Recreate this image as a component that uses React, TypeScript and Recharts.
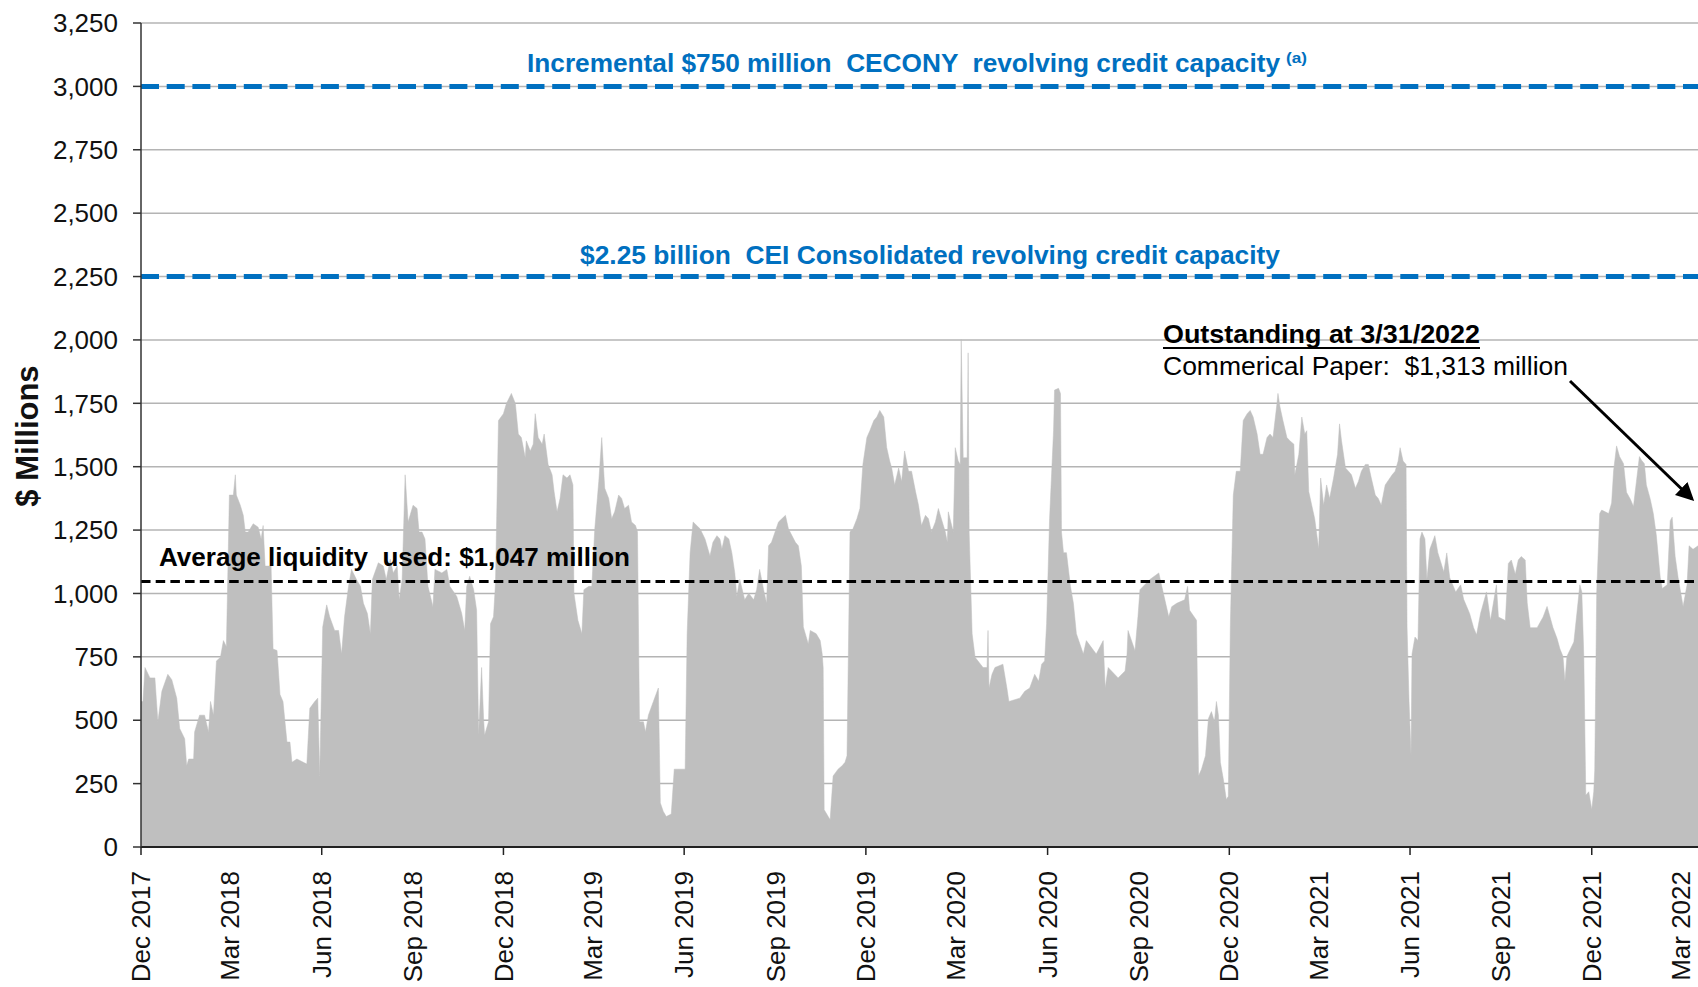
import React from 'react';
import {
  ComposedChart,
  Area,
  XAxis,
  YAxis,
  CartesianGrid,
  ReferenceLine,
} from 'recharts';

document.body.style.margin = '0';

// Daily commercial paper / liquidity used.
// Each point is [days since 1 Dec 2017, $ millions].
const dec17ToMay18: [number, number][] = [
  [0, 574], [2, 574], [4, 708], [9, 667], [14, 667], [17, 494], [21, 614], [27, 681], [31, 660],
  [36, 587], [39, 467], [44, 427], [46, 320], [48, 347], [53, 347], [54, 454], [59, 520], [64, 520],
  [68, 454], [70, 574], [73, 520], [76, 734], [80, 748], [83, 814], [86, 790], [89, 1388], [93, 1388],
  [95, 1468], [96, 1388], [100, 1348], [103, 1308], [105, 1242], [108, 1242], [113, 1275], [118, 1261],
  [121, 1215], [123, 1268], [125, 1108], [131, 1108], [133, 781], [137, 775], [140, 601], [143, 574],
  [147, 414], [150, 414], [152, 334], [157, 347], [163, 335], [167, 327], [170, 547], [175, 574],
  [178, 587], [180, 280],
];

const jun18ToNov18: [number, number][] = [
  [183, 868], [187, 955], [190, 908], [195, 854], [199, 854], [202, 761], [205, 908], [209, 1028],
  [212, 1095], [217, 1055], [221, 1028], [224, 961], [228, 921], [231, 841], [233, 1055], [239, 1121],
  [244, 1108], [247, 1055], [251, 1135], [254, 1081], [258, 1108], [260, 975], [263, 1055], [266, 1468],
  [269, 1282], [274, 1348], [278, 1335], [280, 1242], [283, 1242], [286, 1215], [289, 1028], [294, 948],
  [296, 1095], [303, 1081], [308, 1095], [311, 1028], [318, 988], [323, 921], [326, 854], [328, 1028],
  [331, 1068], [335, 1015], [338, 934], [340, 441], [343, 708], [345, 507], [346, 441], [350, 494],
  [352, 881], [355, 908], [357, 1041], [360, 1682],
];

const dec18ToMay19: [number, number][] = [
  [365, 1709], [368, 1749], [373, 1789], [377, 1749], [380, 1629], [383, 1615], [387, 1535], [388, 1602],
  [392, 1562], [395, 1589], [397, 1709], [400, 1615], [404, 1589], [406, 1629], [410, 1509], [414, 1468],
  [416, 1402], [419, 1322], [422, 1375], [425, 1468], [429, 1455], [432, 1468], [435, 1428], [436, 1001],
  [440, 894], [444, 841], [446, 1015], [451, 1028], [454, 1028], [457, 1255], [461, 1442], [464, 1615],
  [467, 1415], [471, 1375], [474, 1295], [477, 1322], [481, 1388], [484, 1375], [487, 1335], [491, 1348],
  [494, 1282], [498, 1268], [500, 1242], [502, 494], [506, 494], [508, 454], [511, 520], [516, 574],
  [521, 627], [523, 174], [526, 140], [529, 120], [534, 130], [537, 307], [541, 307],
];

const jun19ToNov19: [number, number][] = [
  [548, 307], [550, 841], [553, 1161], [556, 1282], [563, 1255], [568, 1215], [573, 1148], [576, 1202],
  [580, 1228], [583, 1215], [585, 1175], [588, 1228], [592, 1215], [595, 1161], [598, 1081], [600, 988],
  [603, 1055], [608, 975], [612, 1001], [617, 975], [620, 1015], [623, 1095], [627, 1015], [630, 961],
  [632, 1188], [635, 1202], [642, 1282], [649, 1308], [652, 1255], [659, 1202], [662, 1188], [665, 1108],
  [667, 868], [672, 801], [674, 854], [680, 841], [684, 814], [686, 761], [687, 708], [688, 147],
  [694, 107], [697, 280], [702, 307], [706, 320], [709, 334], [711, 360], [714, 1242], [717, 1255],
  [721, 1295], [724, 1335], [727, 1509],
];

const dec19ToMay20: [number, number][] = [
  [731, 1615], [734, 1642], [738, 1682], [741, 1696], [744, 1722], [748, 1696], [751, 1575], [754, 1522],
  [756, 1495], [759, 1428], [763, 1495], [766, 1442], [769, 1562], [773, 1482], [776, 1482], [780, 1402],
  [783, 1348], [786, 1268], [790, 1308], [793, 1295], [796, 1242], [800, 1282], [803, 1335], [806, 1295],
  [810, 1242], [812, 1202], [813, 1322], [818, 1242], [820, 1575], [823, 1522], [825, 1509], [826, 2003],
  [828, 1535], [832, 1535], [833, 1949], [834, 1242], [837, 841], [840, 748], [848, 708], [852, 708],
  [853, 854], [854, 627], [857, 681], [860, 708], [868, 721], [872, 627], [874, 574], [885, 587],
  [890, 614], [895, 627], [900, 681], [904, 654], [907, 721], [910, 734],
];

const jun20ToNov20: [number, number][] = [
  [912, 881], [915, 1295], [919, 1642], [920, 1802], [924, 1809], [926, 1789], [927, 1242], [929, 1161],
  [932, 1161], [936, 1028], [939, 961], [942, 841], [949, 761], [952, 814], [962, 761], [969, 814],
  [971, 627], [974, 708], [984, 667], [991, 694], [993, 761], [994, 854], [1001, 774], [1004, 908],
  [1006, 1015], [1016, 1055], [1025, 1081], [1028, 1028], [1035, 908], [1038, 948], [1043, 961],
  [1051, 975], [1054, 1028], [1056, 934], [1063, 894], [1065, 280], [1068, 307], [1072, 360],
  [1075, 507], [1078, 534], [1081, 494], [1083, 574], [1085, 521], [1087, 334], [1090, 267],
  [1093, 187], [1095, 200],
];

const dec20ToMay21: [number, number][] = [
  [1097, 868], [1100, 1388], [1103, 1482], [1107, 1482], [1110, 1682], [1114, 1709], [1117, 1722],
  [1120, 1696], [1124, 1629], [1127, 1549], [1130, 1549], [1134, 1615], [1137, 1629], [1140, 1615],
  [1144, 1749], [1145, 1789], [1147, 1736], [1150, 1682], [1154, 1615], [1157, 1602], [1161, 1589],
  [1162, 1468], [1166, 1549], [1169, 1696], [1172, 1629], [1174, 1642], [1176, 1402], [1179, 1348],
  [1182, 1295], [1186, 1175], [1188, 1455], [1191, 1348], [1194, 1428], [1197, 1375], [1201, 1455],
  [1205, 1549], [1207, 1669], [1209, 1602], [1213, 1495], [1216, 1482], [1219, 1468], [1223, 1415],
  [1226, 1442], [1229, 1482], [1233, 1509], [1236, 1509], [1239, 1455], [1243, 1388], [1246, 1375],
  [1249, 1348], [1253, 1428], [1260, 1468], [1263, 1482], [1266, 1522], [1268, 1575], [1271, 1522],
  [1274, 1509], [1275, 868], [1277, 574],
];

const jun21ToNov21: [number, number][] = [
  [1279, 360], [1280, 761], [1283, 828], [1286, 814], [1288, 1215], [1290, 1242], [1293, 1215],
  [1295, 1055], [1298, 1175], [1303, 1228], [1306, 1161], [1312, 1085], [1315, 1160], [1318, 1062],
  [1324, 1006], [1329, 1034], [1332, 977], [1338, 921], [1342, 865], [1345, 837], [1349, 921],
  [1355, 1006], [1359, 893], [1365, 1034], [1367, 907], [1374, 893], [1377, 1118], [1380, 1132],
  [1384, 1076], [1387, 1132], [1390, 1146], [1394, 1132], [1396, 963], [1399, 865], [1406, 865],
  [1412, 907], [1416, 949], [1422, 865], [1426, 823], [1429, 781], [1432, 752], [1434, 654],
  [1436, 752], [1443, 809], [1446, 921], [1449, 1034], [1451, 1006], [1453, 752], [1455, 204],
  [1458, 218],
];

const dec21ToMar22: [number, number][] = [
  [1461, 148], [1463, 218], [1464, 302], [1466, 1006], [1469, 1315], [1471, 1329], [1478, 1315],
  [1481, 1357], [1483, 1484], [1486, 1582], [1489, 1540], [1493, 1512], [1496, 1399], [1500, 1371],
  [1503, 1343], [1506, 1442], [1509, 1540], [1511, 1526], [1514, 1512], [1516, 1428], [1520, 1371],
  [1523, 1315], [1526, 1231], [1530, 1062], [1532, 1020], [1537, 1034], [1540, 1287], [1542, 1301],
  [1545, 1146], [1548, 1062], [1553, 949], [1557, 1034], [1559, 1188], [1563, 1174], [1568, 1188],
];

const quarterLabels = [
  'Dec 2017', 'Mar 2018', 'Jun 2018', 'Sep 2018', 'Dec 2018', 'Mar 2019', 'Jun 2019', 'Sep 2019',
  'Dec 2019', 'Mar 2020', 'Jun 2020', 'Sep 2020', 'Dec 2020', 'Mar 2021', 'Jun 2021', 'Sep 2021',
  'Dec 2021', 'Mar 2022',
];

const yTicks = [0, 250, 500, 750, 1000, 1250, 1500, 1750, 2000, 2250, 2500, 2750, 3000, 3250];

const CEI_CAPACITY = 2250;
const CECONY_INCREMENTAL = 3000;
const AVG_USED = 1047;

const MONTHS = ['Jan', 'Feb', 'Mar', 'Apr', 'May', 'Jun', 'Jul', 'Aug', 'Sep', 'Oct', 'Nov', 'Dec'];
const START = Date.UTC(2017, 11, 1);
const LAST_DAY = 1568; // picture is cropped a little before 3/31/2022

const dayOf = (label: string) => {
  const [m, y] = label.split(' ');
  return Math.round((Date.UTC(Number(y), MONTHS.indexOf(m), 1) - START) / 86400000);
};

const tickDays = quarterLabels.map(dayOf);
const labelByDay = new Map(tickDays.map((d, i) => [d, quarterLabels[i]]));

const chartData = [
  ...dec17ToMay18, ...jun18ToNov18, ...dec18ToMay19, ...jun19ToNov19, ...dec19ToMay20,
  ...jun20ToNov20, ...dec20ToMay21, ...jun21ToNov21, ...dec21ToMar22,
].map(([day, value]) => ({ day, value }));

const W = 1698;
const H = 987;
const PLOT_LEFT = 141;
const PLOT_TOP = 23;
const PLOT_BOTTOM = 847;
const Y_MAX = 3250;
const yPx = (v: number) => PLOT_TOP + (1 - v / Y_MAX) * (PLOT_BOTTOM - PLOT_TOP);

const SANS = "'Liberation Sans', Arial, sans-serif";
const NARROW = "'Liberation Sans Narrow', 'Arial Narrow', 'Liberation Sans', sans-serif";
const BLUE = '#0070C0';

function DateTick({ x, y, payload }: any) {
  const label = labelByDay.get(payload.value) ?? '';
  const major = label.startsWith('Dec') || label.startsWith('Jun');
  const ty = y + 24;
  return (
    <g>
      {major && <line x1={x} x2={x} y1={y} y2={y + 8} stroke="#222" strokeWidth={1.5} />}
      <text
        x={x}
        y={ty}
        dy="0.35em"
        transform={`rotate(-90 ${x} ${ty})`}
        textAnchor="end"
        fontFamily={SANS}
        fontSize={26}
        fill="#111"
      >
        {label}
      </text>
    </g>
  );
}

export default function App() {
  return (
    <div style={{ position: 'relative', width: W, height: H, background: '#fff' }}>
      <ComposedChart
        width={W}
        height={H}
        data={chartData}
        margin={{ top: PLOT_TOP, right: 0, left: 0, bottom: 10 }}
      >
        <CartesianGrid vertical={false} stroke="#b4b4b4" strokeWidth={1.5} />
        <XAxis
          dataKey="day"
          type="number"
          domain={[0, LAST_DAY]}
          allowDataOverflow
          ticks={tickDays}
          interval={0}
          height={130}
          tickSize={0}
          tickMargin={0}
          tickLine={false}
          axisLine={{ stroke: '#222', strokeWidth: 2 }}
          tick={<DateTick />}
        />
        <YAxis
          type="number"
          domain={[0, Y_MAX]}
          ticks={yTicks}
          interval={0}
          width={PLOT_LEFT}
          tickSize={8}
          tickMargin={15}
          axisLine={{ stroke: '#333', strokeWidth: 1.5 }}
          tickLine={{ stroke: '#333', strokeWidth: 1.5 }}
          tick={{ fontFamily: SANS, fontSize: 26, fill: '#111' }}
          tickFormatter={(v: number) => v.toLocaleString('en-US')}
        />
        <Area
          type="linear"
          dataKey="value"
          stroke="#bfbfbf"
          strokeWidth={0.5}
          fill="#bfbfbf"
          fillOpacity={1}
          isAnimationActive={false}
          dot={false}
          activeDot={false}
        />
        <ReferenceLine y={CECONY_INCREMENTAL} stroke={BLUE} strokeWidth={5} strokeDasharray="18 7.7" />
        <ReferenceLine y={CEI_CAPACITY} stroke={BLUE} strokeWidth={5} strokeDasharray="18 7.7" />
        <ReferenceLine y={AVG_USED} stroke="#000" strokeWidth={3} strokeDasharray="9.5 5.2" />
      </ComposedChart>

      <svg
        width={W}
        height={H}
        style={{ position: 'absolute', left: 0, top: 0, pointerEvents: 'none' }}
      >
        <defs>
          <marker id="arrowHead" markerWidth="6" markerHeight="6" refX="5" refY="3" orient="auto">
            <path d="M0,0 L6,3 L0,6 Z" fill="#000" />
          </marker>
        </defs>

        <text
          x={27}
          y={436}
          dy="0.35em"
          transform="rotate(-90 27 436)"
          textAnchor="middle"
          fontFamily={SANS}
          fontWeight="bold"
          fontSize={31}
          fill="#111"
        >
          $ Millions
        </text>

        <text
          x={527}
          y={yPx(CECONY_INCREMENTAL) - 14}
          textLength={753}
          lengthAdjust="spacingAndGlyphs"
          fontFamily={NARROW}
          fontWeight="bold"
          fontSize={26}
          fill={BLUE}
          style={{ whiteSpace: 'pre' }}
        >
          {'Incremental $750 million  CECONY  revolving credit capacity'}
        </text>
        <text
          x={1286}
          y={yPx(CECONY_INCREMENTAL) - 23}
          textLength={21}
          lengthAdjust="spacingAndGlyphs"
          fontFamily={NARROW}
          fontWeight="bold"
          fontSize={15}
          fill={BLUE}
        >
          (a)
        </text>

        <text
          x={580}
          y={yPx(CEI_CAPACITY) - 13}
          textLength={700}
          lengthAdjust="spacingAndGlyphs"
          fontFamily={NARROW}
          fontWeight="bold"
          fontSize={26}
          fill={BLUE}
          style={{ whiteSpace: 'pre' }}
        >
          {'$2.25 billion  CEI Consolidated revolving credit capacity'}
        </text>

        <text
          x={159}
          y={yPx(AVG_USED) - 16}
          textLength={471}
          lengthAdjust="spacingAndGlyphs"
          fontFamily={SANS}
          fontWeight="bold"
          fontSize={26}
          fill="#000"
          style={{ whiteSpace: 'pre' }}
        >
          {'Average liquidity  used: $1,047 million'}
        </text>

        <text
          x={1163}
          y={343}
          textLength={317}
          lengthAdjust="spacingAndGlyphs"
          fontFamily={SANS}
          fontWeight="bold"
          fontSize={26}
          fill="#000"
        >
          Outstanding at 3/31/2022
        </text>
        <line x1={1163} x2={1480} y1={348} y2={348} stroke="#000" strokeWidth={2} />
        <text
          x={1163}
          y={375}
          textLength={405}
          lengthAdjust="spacingAndGlyphs"
          fontFamily={SANS}
          fontSize={26}
          fill="#000"
          style={{ whiteSpace: 'pre' }}
        >
          {'Commerical Paper:  $1,313 million'}
        </text>

        <line
          x1={1570}
          y1={381}
          x2={1692}
          y2={499}
          stroke="#000"
          strokeWidth={3}
          markerEnd="url(#arrowHead)"
        />
      </svg>
    </div>
  );
}
